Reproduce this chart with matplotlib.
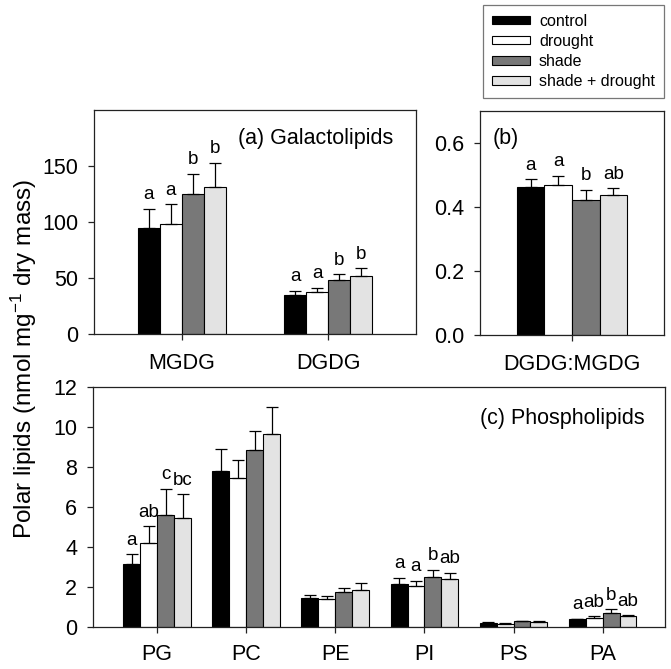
import matplotlib
matplotlib.use('Agg')
import matplotlib.pyplot as plt
import numpy as np
from matplotlib.patches import Patch

plt.rcParams['font.family'] = ['Liberation Sans', 'DejaVu Sans']
plt.rcParams['mathtext.fontset'] = 'custom'
plt.rcParams['mathtext.rm'] = 'Liberation Sans'
plt.rcParams['mathtext.default'] = 'regular'

# ---------------- data ----------------
treatments = ['control', 'drought', 'shade', 'shade + drought']
colors = ['#000000', '#ffffff', '#787878', '#e3e3e3']

gal_cats = ['MGDG', 'DGDG']
gal_control = [94.7, 35.2]
gal_drought = [98.6, 37.3]
gal_shade = [125.0, 48.0]
gal_shade_drought = [131.0, 52.0]
gal_err_control = [17.3, 3.6]
gal_err_drought = [17.4, 4.1]
gal_err_shade = [18.0, 5.3]
gal_err_shade_drought = [22.0, 6.6]
gal_letters = [['a', 'a', 'b', 'b'], ['a', 'a', 'b', 'b']]

ratio_cats = ['DGDG:MGDG']
ratio_control = [0.464]
ratio_drought = [0.468]
ratio_shade = [0.423]
ratio_shade_drought = [0.436]
ratio_err_control = [0.023]
ratio_err_drought = [0.030]
ratio_err_shade = [0.031]
ratio_err_shade_drought = [0.022]
ratio_letters = [['a', 'a', 'b', 'ab']]

phos_cats = ['PG', 'PC', 'PE', 'PI', 'PS', 'PA']
phos_control = [3.13, 7.80, 1.45, 2.17, 0.22, 0.38]
phos_drought = [4.20, 7.43, 1.40, 2.03, 0.17, 0.47]
phos_shade = [5.60, 8.83, 1.75, 2.52, 0.28, 0.70]
phos_shade_drought = [5.47, 9.63, 1.83, 2.40, 0.27, 0.53]
phos_err_control = [0.50, 1.10, 0.15, 0.28, 0.03, 0.04]
phos_err_drought = [0.83, 0.92, 0.17, 0.27, 0.02, 0.06]
phos_err_shade = [1.32, 0.97, 0.22, 0.33, 0.03, 0.18]
phos_err_shade_drought = [1.16, 1.37, 0.35, 0.32, 0.02, 0.05]
phos_letters = [['a', 'ab', 'c', 'bc'], ['', '', '', ''], ['', '', '', ''],
                ['a', 'a', 'b', 'ab'], ['', '', '', ''], ['a', 'ab', 'b', 'ab']]

# ---------------- figure ----------------
W, H = 671, 669
fig = plt.figure(figsize=(W / 100, H / 100), dpi=100)


def px_axes(left, top, right, bottom):
    return fig.add_axes([left / W, 1 - bottom / H, (right - left) / W, (bottom - top) / H])


spine_color = '#222222'


def style(ax, xpad):
    for s in ax.spines.values():
        s.set_linewidth(0.9)
        s.set_color(spine_color)
    ax.tick_params(axis='y', direction='out', length=4.5, width=0.9, pad=7,
                   labelsize=15.5, color=spine_color)
    ax.tick_params(axis='x', direction='out', length=4, width=0.9, pad=xpad,
                   labelsize=15.5, color=spine_color)


def draw(ax, cats, series, errs, letters, width, letter_size=13.5):
    x = np.arange(len(cats))
    for i in range(4):
        pos = x + (i - 1.5) * width
        vals = np.asarray(series[i])
        e = np.asarray(errs[i])
        ax.bar(pos, vals, width, color=colors[i], edgecolor='black', linewidth=0.8,
               zorder=2)
        ax.errorbar(pos, vals, yerr=[np.zeros(len(cats)), e], fmt='none',
                    ecolor='black', elinewidth=0.9, capsize=4.2, capthick=0.9, zorder=3)
        for j in range(len(cats)):
            lab = letters[j][i]
            if lab:
                ax.annotate(lab, xy=(pos[j], vals[j] + e[j]), xytext=(0, 4),
                            textcoords='offset points', ha='center', va='bottom',
                            fontsize=letter_size)
    ax.set_xticks(x)
    ax.set_xticklabels(cats)


# panel (a)
ax_a = px_axes(94, 110, 416, 334)
draw(ax_a, gal_cats,
     [gal_control, gal_drought, gal_shade, gal_shade_drought],
     [gal_err_control, gal_err_drought, gal_err_shade, gal_err_shade_drought],
     gal_letters, 0.15)
ax_a.set_xlim(-0.6, 1.6)
ax_a.set_ylim(0, 200)
ax_a.set_yticks([0, 50, 100, 150])
style(ax_a, 10)
ax_a.text(0.447, 0.872, '(a) Galactolipids', transform=ax_a.transAxes,
          ha='left', va='center', fontsize=15.5)

# panel (b)
ax_b = px_axes(480, 111, 664, 335)
draw(ax_b, ratio_cats,
     [ratio_control, ratio_drought, ratio_shade, ratio_shade_drought],
     [ratio_err_control, ratio_err_drought, ratio_err_shade, ratio_err_shade_drought],
     ratio_letters, 0.15)
ax_b.set_xlim(-0.5, 0.5)
ax_b.set_ylim(0, 0.7)
ax_b.set_yticks([0.0, 0.2, 0.4, 0.6])
ax_b.set_yticklabels(['0.0', '0.2', '0.4', '0.6'])
style(ax_b, 10)
ax_b.text(0.07, 0.877, '(b)', transform=ax_b.transAxes,
          ha='left', va='center', fontsize=15.5)

# panel (c)
ax_c = px_axes(93, 387, 665, 627)
draw(ax_c, phos_cats,
     [phos_control, phos_drought, phos_shade, phos_shade_drought],
     [phos_err_control, phos_err_drought, phos_err_shade, phos_err_shade_drought],
     phos_letters, 0.19)
ax_c.set_xlim(-0.72, 5.7)
ax_c.set_ylim(0, 12)
ax_c.set_yticks(np.arange(0, 13, 2))
style(ax_c, 8.5)
ax_c.text(0.965, 0.868, '(c) Phospholipids', transform=ax_c.transAxes,
          ha='right', va='center', fontsize=15.5)

# shared y label
fig.text(24 / W, 1 - 359 / H, r'Polar lipids (nmol mg$^{-1}$ dry mass)',
         rotation=90, ha='center', va='center', fontsize=17.5)

# legend
handles = [Patch(facecolor=c, edgecolor='black', linewidth=0.8) for c in colors]
leg = fig.legend(handles, treatments, loc='upper left',
                 bbox_to_anchor=(483 / W, 1 - 5 / H), bbox_transform=fig.transFigure,
                 frameon=True, fancybox=False, fontsize=11.5,
                 handlelength=2.4, handleheight=0.45, handletextpad=0.55,
                 labelspacing=0.32, borderpad=0.55, borderaxespad=0)
leg.get_frame().set_edgecolor('#555555')
leg.get_frame().set_linewidth(0.9)

fig.savefig('out.png', dpi=100)
